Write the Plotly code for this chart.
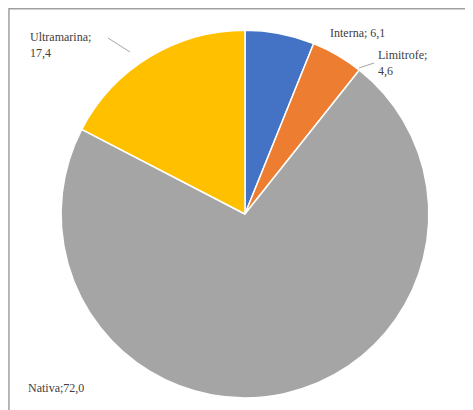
import plotly.graph_objects as go

labels = ["Interna", "Limitrofe", "Nativa", "Ultramarina"]
values = [6.1, 4.6, 72.0, 17.4]
colors = ["#4472C4", "#ED7D31", "#A5A5A5", "#FFC000"]

def fmt(v):
    return f"{v:.1f}".replace(".", ",")

fig = go.Figure(go.Pie(
    labels=labels, values=values, sort=False, direction="clockwise", rotation=0,
    marker=dict(colors=colors, line=dict(color="white", width=1.5)),
    textinfo="none", hoverinfo="label+value", showlegend=False,
    domain=dict(x=[0.1095, 0.8925], y=[0.049, 0.946]),
))

W, H = 473, 410
font = dict(family="Liberation Serif", size=12, color="#404040")
ann = [
    (labels[0] + "; " + fmt(values[0]), 320, 25),
    (labels[1] + ";<br>" + fmt(values[1]), 368, 55),
    (labels[3] + ";<br>" + fmt(values[3]), 20, 37),
    (labels[2] + ";" + fmt(values[2]), 18, 380),
]
for t, x, y in ann:
    fig.add_annotation(text=t, x=x / W, y=1 - y / H, xref="paper", yref="paper",
                       xanchor="left", yanchor="middle", align="left", showarrow=False, font=font)
for (x0, y0, x1, y1) in [(351, 60, 366, 55), (100, 30, 122, 44)]:
    fig.add_shape(type="line", x0=x0 / W, y0=1 - y0 / H, x1=x1 / W, y1=1 - y1 / H,
                  xref="paper", yref="paper", line=dict(color="#A6A6A6", width=1))
fig.add_shape(type="rect", x0=0.002, y0=0.002, x1=0.98, y1=0.998, xref="paper", yref="paper",
              line=dict(color="#A0A0A0", width=1.5))
fig.update_layout(width=W, height=H, margin=dict(l=0, r=0, t=0, b=0),
                  paper_bgcolor="white", plot_bgcolor="white")
fig.write_html("out.html")
